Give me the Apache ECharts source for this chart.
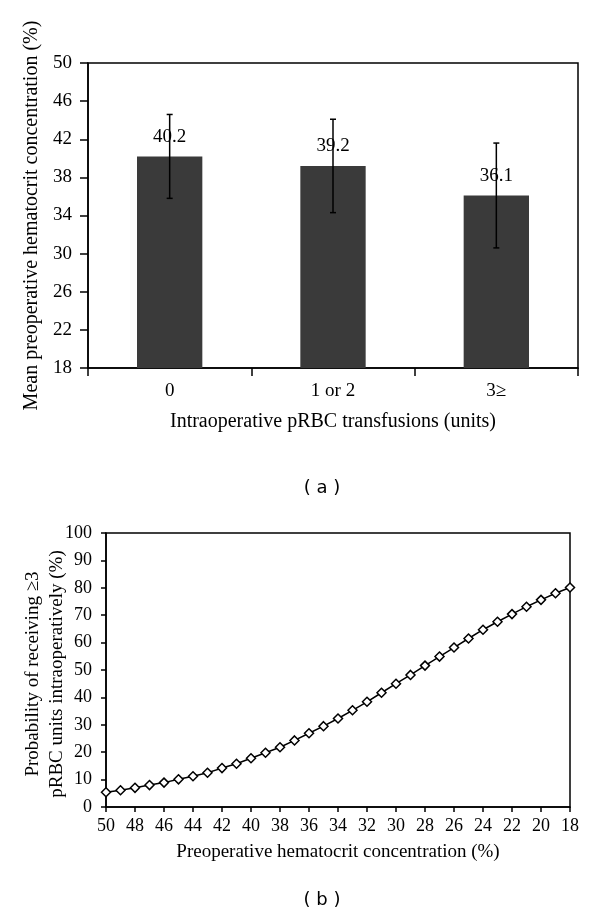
<!DOCTYPE html>
<html>
<head>
<meta charset="utf-8">
<script src="https://cdn.jsdelivr.net/npm/echarts@6/dist/echarts.min.js"></script>
<style>
html,body{margin:0;padding:0;background:#fff;}
#chart{width:600px;height:915px;}
</style>
</head>
<body>
<div id="chart"></div>
<script>
// Panel (a)
const barCategories = ['0', '1 or 2', '3\u2265'];
const barValues = [40.2, 39.2, 36.1];
const errorLow = [35.8, 34.3, 30.6];
const errorHigh = [44.6, 44.1, 41.6];

// Panel (b)
const hctValues = [50,49,48,47,46,45,44,43,42,41,40,39,38,37,36,35,34,33,32,31,30,29,28,27,26,25,24,23,22,21,20,19,18];
const probValues = [5.4,6.1,7.0,8.0,8.9,10.1,11.2,12.5,14.2,15.8,17.8,19.8,21.8,24.3,26.9,29.5,32.3,35.3,38.4,41.7,45.0,48.2,51.6,54.9,58.2,61.5,64.7,67.6,70.4,73.1,75.6,78.0,80.1];

const serif = '"Liberation Serif", "DejaVu Serif", serif';
const sans = '"DejaVu Sans", Verdana, sans-serif';

const chart = echarts.init(document.getElementById('chart'), null, {renderer: 'canvas'});

const axisLine = {show: true, lineStyle: {color: '#000', width: 1.5}};

const option = {
  animation: false,
  backgroundColor: '#fff',
  grid: [
    {left: 88, right: 22, top: 63, height: 305, show: true, borderColor: '#000', borderWidth: 1.5, backgroundColor: 'transparent'},
    {left: 106, right: 30, top: 533, height: 274, show: true, borderColor: '#000', borderWidth: 1.5, backgroundColor: 'transparent'}
  ],
  xAxis: [
    {
      type: 'category', gridIndex: 0, data: barCategories,
      axisLine: axisLine,
      axisTick: {show: true, length: 8, lineStyle: {color: '#000', width: 1.5}},
      axisLabel: {color: '#000', fontFamily: serif, fontSize: 19, margin: 14},
      name: 'Intraoperative pRBC transfusions (units)',
      nameLocation: 'middle', nameGap: 54,
      nameTextStyle: {color: '#000', fontFamily: serif, fontSize: 20, verticalAlign: 'middle'}
    },
    {
      type: 'value', gridIndex: 1, min: 18, max: 50, interval: 2, inverse: true,
      axisLine: axisLine,
      axisTick: {show: true, length: 5, lineStyle: {color: '#000', width: 1.5}},
      axisLabel: {color: '#000', fontFamily: serif, fontSize: 18, margin: 10},
      splitLine: {show: false},
      name: 'Preoperative hematocrit concentration (%)',
      nameLocation: 'middle', nameGap: 45,
      nameTextStyle: {color: '#000', fontFamily: serif, fontSize: 19, verticalAlign: 'middle'}
    }
  ],
  yAxis: [
    {
      type: 'value', gridIndex: 0, min: 18, max: 50, interval: 4,
      axisLine: axisLine,
      axisTick: {show: true, length: 8, lineStyle: {color: '#000', width: 1.5}},
      axisLabel: {color: '#000', fontFamily: serif, fontSize: 19, margin: 16},
      splitLine: {show: false},
      name: 'Mean preoperative hematocrit concentration (%)',
      nameLocation: 'middle', nameGap: 56, nameRotate: 90,
      nameTextStyle: {color: '#000', fontFamily: serif, fontSize: 20, verticalAlign: 'middle'}
    },
    {
      type: 'value', gridIndex: 1, min: 0, max: 100, interval: 10,
      axisLine: axisLine,
      axisTick: {show: true, length: 5, lineStyle: {color: '#000', width: 1.5}},
      axisLabel: {color: '#000', fontFamily: serif, fontSize: 18, margin: 14},
      splitLine: {show: false}
    }
  ],
  series: [
    {
      type: 'bar', xAxisIndex: 0, yAxisIndex: 0,
      data: barValues, barWidth: '40%',
      itemStyle: {color: '#3a3a3a'},
      label: {show: true, position: 'top', distance: 10, color: '#000', fontFamily: serif, fontSize: 19}
    },
    {
      type: 'custom', xAxisIndex: 0, yAxisIndex: 0,
      data: barCategories.map((c, i) => [i, errorLow[i], errorHigh[i]]),
      renderItem: function (params, api) {
        const x = api.value(0);
        const lo = api.coord([x, api.value(1)]);
        const hi = api.coord([x, api.value(2)]);
        const hw = 3;
        const st = {stroke: '#000', lineWidth: 1.5};
        return {
          type: 'group',
          children: [
            {type: 'line', shape: {x1: lo[0], y1: lo[1], x2: hi[0], y2: hi[1]}, style: st},
            {type: 'line', shape: {x1: lo[0]-hw, y1: lo[1], x2: lo[0]+hw, y2: lo[1]}, style: st},
            {type: 'line', shape: {x1: hi[0]-hw, y1: hi[1], x2: hi[0]+hw, y2: hi[1]}, style: st}
          ]
        };
      },
      z: 5
    },
    {
      type: 'line', xAxisIndex: 1, yAxisIndex: 1,
      data: hctValues.map((h, i) => [h, probValues[i]]),
      lineStyle: {color: '#000', width: 1.5},
      symbol: 'diamond', symbolSize: 9,
      itemStyle: {color: '#fff', borderColor: '#000', borderWidth: 1.5}
    }
  ],
  graphic: [
    {type: 'text', x: 45, y: 674, rotation: Math.PI / 2,
     style: {text: 'Probability of receiving \u22653\npRBC units intraoperatively (%)', font: '19px ' + serif, lineHeight: 24, fill: '#000', textAlign: 'center', textVerticalAlign: 'middle'}},
    {type: 'text', x: 322, y: 488, style: {text: '( a )', font: '18px ' + sans, fill: '#000', textAlign: 'center', textVerticalAlign: 'middle'}},
    {type: 'text', x: 322, y: 900, style: {text: '( b )', font: '18px ' + sans, fill: '#000', textAlign: 'center', textVerticalAlign: 'middle'}}
  ]
};
chart.setOption(option);
</script>
</body>
</html>
